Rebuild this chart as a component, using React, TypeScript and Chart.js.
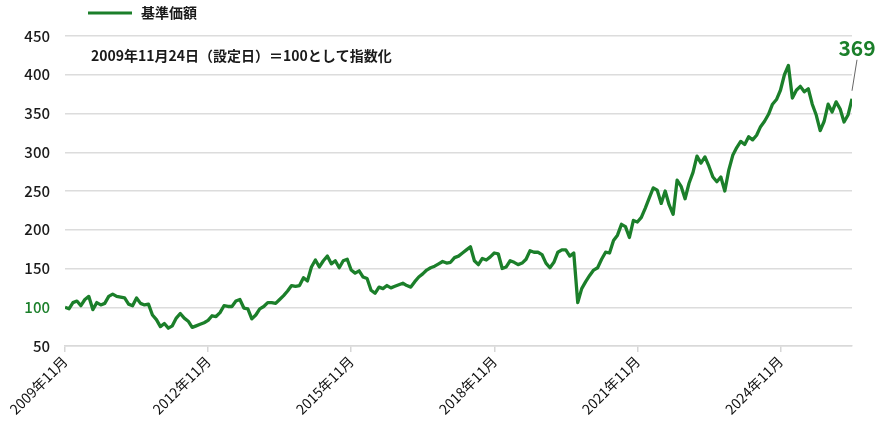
import { useEffect, useRef } from 'react';
import { Chart, registerables } from 'chart.js';

Chart.register(...registerables);

const seriesName = '基準価額';
const noteText = '2009年11月24日（設定日）＝100として指数化';
const xTickMonths = [0, 36, 72, 108, 144, 180];
const xTickLabels = ['2009年11月', '2012年11月', '2015年11月', '2018年11月', '2021年11月', '2024年11月'];
const yMin = 50;
const yMax = 450;
const yStep = 50;
const lastLabel = '369';

// monthly index values, starting 2009年11月 (=100)
const navValues = [
  100, 98, 106, 108, 102, 110, 114, 97, 106, 103,
  105, 114, 117, 114, 113, 112, 104, 102, 112, 105,
  103, 104, 90, 84, 75, 79, 73, 76, 86, 92,
  86, 82, 74, 76, 78, 80, 83, 89, 88, 93,
  102, 101, 101, 108, 110, 99, 98, 85, 90, 98,
  101, 106, 106, 105, 110, 115, 121, 128, 127, 128,
  138, 134, 152, 161, 152, 160, 166, 156, 160, 151,
  160, 162, 148, 144, 147, 139, 137, 122, 118, 126,
  124, 128, 125, 127, 129, 131, 128, 126, 133, 139,
  143, 148, 151, 153, 156, 159, 157, 158, 164, 166,
  170, 174, 178, 160, 155, 163, 161, 165, 170, 169,
  150, 152, 160, 158, 155, 157, 162, 173, 171, 171,
  168, 157, 151, 158, 171, 174, 174, 166, 170, 106,
  124, 133, 141, 148, 151, 162, 171, 170, 186, 193,
  207, 204, 190, 212, 210, 216, 228, 241, 254, 251,
  234, 250, 232, 220, 264, 256, 240, 260, 274, 295,
  286, 294, 282, 268, 262, 268, 250, 277, 296, 306,
  314, 310, 320, 316, 322, 333, 340, 349, 362, 368,
  380, 400, 412, 370, 380, 385, 378, 382, 362, 348,
  328, 340, 362, 352, 365, 356, 339, 348, 369,
];

const GREEN = '#1b7f2a';
const FONT = "'Noto Sans CJK JP', 'Noto Sans', sans-serif";

const overlayPlugin = {
  id: 'overlay',
  afterDraw(chart: any) {
    const ctx = chart.ctx;
    ctx.save();
    // legend
    ctx.strokeStyle = GREEN;
    ctx.lineWidth = 3;
    ctx.beginPath();
    ctx.moveTo(88, 13);
    ctx.lineTo(132, 13);
    ctx.stroke();
    ctx.fillStyle = '#1a1a1a';
    ctx.font = `bold 14px ${FONT}`;
    ctx.textBaseline = 'middle';
    ctx.textAlign = 'left';
    ctx.fillText(seriesName, 141, 13);
    // note
    ctx.font = `bold 14px ${FONT}`;
    ctx.fillText(noteText, 91, 56);
    // end label
    const xs = chart.scales.x;
    const ys = chart.scales.y;
    const lastIdx = navValues.length - 1;
    const px = xs.getPixelForValue(lastIdx);
    const py = ys.getPixelForValue(navValues[lastIdx]);
    ctx.strokeStyle = '#666';
    ctx.lineWidth = 1;
    ctx.beginPath();
    ctx.moveTo(px, py - 8);
    ctx.lineTo(px + 5, py - 39);
    ctx.stroke();
    ctx.fillStyle = GREEN;
    ctx.font = `bold 21px ${FONT}`;
    ctx.textAlign = 'center';
    ctx.fillText(lastLabel, px + 5, py - 51);
    ctx.restore();
  },
};

export default function App() {
  const ref = useRef<HTMLCanvasElement | null>(null);
  useEffect(() => {
    document.body.style.margin = '0';
    const canvas = ref.current;
    if (!canvas) return;
    const chart = new Chart(canvas, {
      type: 'line',
      data: {
        datasets: [
          {
            label: seriesName,
            data: navValues.map((v, i) => ({ x: i, y: v })),
            borderColor: GREEN,
            backgroundColor: GREEN,
            borderWidth: 3.3,
            pointRadius: 0,
            tension: 0,
            borderJoinStyle: 'round',
          },
        ],
      },
      options: {
        responsive: false,
        animation: false,
        layout: { padding: { top: 36, right: 28, left: 0, bottom: 0 } },
        plugins: { legend: { display: false }, tooltip: { enabled: false } },
        scales: {
          x: {
            type: 'linear',
            min: 0,
            max: navValues.length - 1,
            afterFit: (s: any) => { s.height = 81; },
            afterBuildTicks: (s: any) => { s.ticks = xTickMonths.map((v) => ({ value: v })); },
            ticks: {
              minRotation: 45,
              maxRotation: 45,
              autoSkip: false,
              padding: 1,
              color: '#111',
              font: { family: FONT, size: 14 },
              callback: (v: any) => {
                const i = xTickMonths.indexOf(Number(v));
                return i >= 0 ? xTickLabels[i] : '';
              },
            },
            grid: { drawOnChartArea: false, drawTicks: true, tickLength: 6, color: '#d6d6d6', lineWidth: 1.5 },
            border: { display: true, color: '#d9d9d9', width: 1.5 },
          },
          y: {
            min: yMin,
            max: yMax,
            afterFit: (s: any) => { s.width = 65; },
            ticks: {
              stepSize: yStep,
              padding: 15,
              color: (c: any) => (c.tick && c.tick.value === 100 ? GREEN : '#1a1a1a'),
              font: { family: FONT, size: 15, weight: 500 },
            },
            grid: { drawTicks: false, color: '#dcdcdc', lineWidth: 1.5 },
            border: { display: false },
          },
        },
      },
      plugins: [overlayPlugin],
    });
    return () => chart.destroy();
  }, []);
  return <canvas ref={ref} width={880} height={427} style={{ display: 'block' }} />;
}
